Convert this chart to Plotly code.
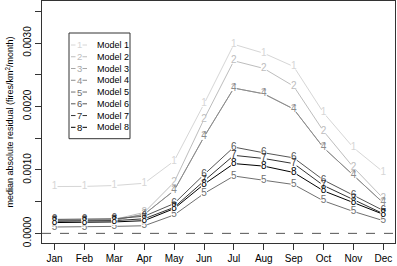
import plotly.graph_objects as go

months = ["Jan", "Feb", "Mar", "Apr", "May", "Jun", "Jul", "Aug", "Sep", "Oct", "Nov", "Dec"]
model_names = ["Model 1", "Model 2", "Model 3", "Model 4", "Model 5", "Model 6", "Model 7", "Model 8"]
symbols = ["1", "2", "3", "4", "5", "6", "7", "8"]

model1 = [0.000738, 0.00074, 0.000754, 0.00079, 0.00114, 0.00204, 0.00298, 0.00284, 0.00263, 0.0019, 0.00135, 0.000967]
model2 = [0.00021, 0.00021, 0.00022, 0.00033, 0.000805, 0.0018, 0.00272, 0.0026, 0.00232, 0.00161, 0.00104, 0.00055]
model3 = [0.0002, 0.0002, 0.00021, 0.0003, 0.000675, 0.00152, 0.00229, 0.0022, 0.00196, 0.00135, 0.00091, 0.00048]
model4 = [0.0002, 0.0002, 0.00021, 0.0003, 0.000675, 0.00152, 0.00229, 0.0022, 0.00196, 0.00135, 0.00091, 0.00048]
model5 = [0.0001, 0.0001, 0.00011, 0.00012, 0.00029, 0.000628, 0.000904, 0.000837, 0.00077, 0.000512, 0.000345, 0.0002]
model6 = [0.00022, 0.00022, 0.00023, 0.00027, 0.00047, 0.000926, 0.00136, 0.00127, 0.00119, 0.00084, 0.000597, 0.00036]
model7 = [0.00019, 0.00019, 0.0002, 0.00023, 0.00041, 0.000826, 0.00123, 0.00118, 0.0011, 0.000754, 0.000528, 0.00031]
model8 = [0.00017, 0.00017, 0.00018, 0.0002, 0.00039, 0.000774, 0.0011, 0.00106, 0.00096, 0.00067, 0.00049, 0.0003]

models = [model1, model2, model3, model4, model5, model6, model7, model8]
colors = ["#d6d6d6", "#bdbdbd", "#a6a6a6", "#8c8c8c", "#707070", "#555555", "#333333", "#000000"]

ytick_vals = [0.0, 0.0010, 0.0020, 0.0030]
ytick_text = ["0.0000", "0.0010", "0.0020", "0.0030"]
yminor_vals = [0.0005, 0.0015, 0.0025, 0.0035]

FONT = "Liberation Sans, Arial, sans-serif"
W, H = 397, 266
L, R, T, B = 42, 2, 1, 23
PW, PH = W - L - R, H - T - B

def px(x):
    return (x - L) / PW

def py(y):
    return (H - B - y) / PH

xs = list(range(1, 13))
fig = go.Figure()

for name, vals, col, sym in zip(model_names, models, colors, symbols):
    fig.add_trace(go.Scatter(
        x=xs, y=vals, mode="lines+markers+text", name=name,
        line=dict(color=col, width=1),
        marker=dict(symbol="square", size=6, color="white", line=dict(width=0)),
        text=[sym] * len(xs), textposition="middle center",
        textfont=dict(family=FONT, size=10, color=col),
        showlegend=False, hoverinfo="skip", cliponaxis=False,
    ))

fig.add_hline(y=0, line=dict(color="#555555", width=1, dash="dash"))

# legend box
lx0, lx1, ly0, ly1 = 69, 130, 33, 138.7
fig.add_shape(type="rect", xref="paper", yref="paper",
              x0=px(lx0), x1=px(lx1), y0=py(ly1), y1=py(ly0),
              line=dict(color="#333333", width=1), fillcolor="white", layer="above")
for i, (name, col, sym) in enumerate(zip(model_names, colors, symbols)):
    yy = 45 + i * 11.76
    fig.add_shape(type="line", xref="paper", yref="paper",
                  x0=px(71), x1=px(75.5), y0=py(yy), y1=py(yy),
                  line=dict(color=col, width=1), layer="above")
    fig.add_shape(type="line", xref="paper", yref="paper",
                  x0=px(82.5), x1=px(87), y0=py(yy), y1=py(yy),
                  line=dict(color=col, width=1), layer="above")
    fig.add_annotation(xref="paper", yref="paper", x=px(79), y=py(yy), text=sym,
                       showarrow=False, font=dict(family=FONT, size=9.5, color=col),
                       xanchor="center", yanchor="middle")
    fig.add_annotation(xref="paper", yref="paper", x=px(95), y=py(yy), text=name,
                       showarrow=False, font=dict(family=FONT, size=9, color="black"),
                       xanchor="left", yanchor="middle")

fig.update_layout(
    width=W, height=H,
    margin=dict(l=L, r=R, t=T, b=B),
    paper_bgcolor="white", plot_bgcolor="white",
    font=dict(family=FONT, size=10, color="black"),
    showlegend=False,
)
fig.update_xaxes(
    range=[0.58, 12.39], tickvals=xs, ticktext=months,
    showgrid=False, zeroline=False,
    showline=True, mirror=True, linecolor="#333333", linewidth=1,
    ticks="outside", ticklen=6, tickcolor="#333333",
    tickfont=dict(family=FONT, size=10),
)
fig.update_yaxes(
    range=[-0.000152, 0.003663], tickvals=ytick_vals, ticktext=ytick_text,
    tickangle=-90,
    minor=dict(tickvals=yminor_vals, ticks="outside", ticklen=6, tickcolor="#333333", showgrid=False),
    showgrid=False, zeroline=False,
    showline=True, mirror=True, linecolor="#333333", linewidth=1,
    ticks="outside", ticklen=6, tickcolor="#333333",
    tickfont=dict(family=FONT, size=10),
    title=dict(text="median absolute residual (fires/km<sup>2</sup>/month)",
               font=dict(family=FONT, size=9), standoff=6),
)

fig.write_html("out.html", config={"displayModeBar": False},
               post_script="document.body.style.margin='0';document.body.style.overflow='hidden';")
